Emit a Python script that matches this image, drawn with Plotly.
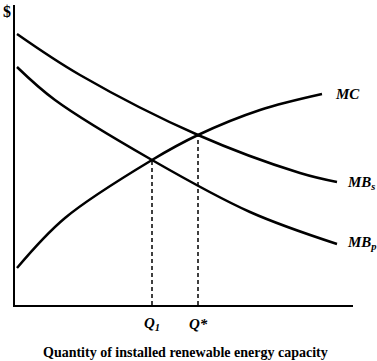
import plotly.graph_objects as go

# Curve points (arbitrary units: quantity, $)
mbs_x = [2, 65, 183, 285, 322]
mbs_y = [271, 230, 170, 132, 123]
mbp_x = [2, 40, 137, 235, 322]
mbp_y = [238, 205, 145, 93, 61]
mc_x = [2, 50, 137, 183, 245, 307]
mc_y = [37, 87, 145, 170, 195, 211]
q1 = 137
q1_price = 145
qstar = 183
qstar_price = 170

FONT = "Liberation Serif"
X0, Y0, XS, YS = 15, 305, 338, 300  # pixel origin and plot size


def px(x):
    return (x - X0) / XS


def py(y):
    return (Y0 - y) / YS


fig = go.Figure()
for xs, ys in [(mbs_x, mbs_y), (mbp_x, mbp_y), (mc_x, mc_y)]:
    fig.add_trace(go.Scatter(x=xs, y=ys, mode="lines",
                             line=dict(color="black", width=2.5, shape="spline", smoothing=1.0),
                             hoverinfo="skip", showlegend=False))
for q, p in [(q1, q1_price), (qstar, qstar_price)]:
    fig.add_trace(go.Scatter(x=[q, q], y=[0, p], mode="lines",
                             line=dict(color="black", width=1.5, dash="4px,3px"),
                             hoverinfo="skip", showlegend=False))

ann = [
    dict(x=318, y=211, text="<b><i>MC</i></b>", xanchor="left", size=15),
    dict(x=330, y=122, text="<b><i>MB<sub>s</sub></i></b>", xanchor="left", size=15),
    dict(x=330, y=62, text="<b><i>MB<sub>p</sub></i></b>", xanchor="left", size=15),
]
for a in ann:
    fig.add_annotation(x=a["x"], y=a["y"], xref="x", yref="y", text=a["text"],
                       showarrow=False, xanchor=a["xanchor"], yanchor="middle",
                       font=dict(family=FONT, size=a["size"], color="black"))
for q, t in [(q1, "<b><i>Q<sub>1</sub></i></b>"), (qstar, "<b><i>Q*</i></b>")]:
    fig.add_annotation(x=q, y=py(324), xref="x", yref="paper", text=t,
                       showarrow=False, xanchor="center", yanchor="middle",
                       font=dict(family=FONT, size=15, color="black"))
fig.add_annotation(xref="paper", yref="paper", x=px(185), y=py(352),
                   text="<b>Quantity of installed renewable energy capacity</b>",
                   showarrow=False, xanchor="center", yanchor="middle",
                   font=dict(family=FONT, size=14, color="black"))
fig.add_annotation(xref="paper", yref="paper", x=px(7), y=py(12),
                   text="<b>$</b>", showarrow=False, xanchor="center", yanchor="middle",
                   font=dict(family=FONT, size=16, color="black"))

fig.update_layout(
    width=377, height=361,
    margin=dict(l=15, r=24, t=5, b=56),
    plot_bgcolor="white", paper_bgcolor="white",
    xaxis=dict(range=[0, 338], showline=True, linecolor="black", linewidth=2,
               showgrid=False, zeroline=False, showticklabels=False, ticks="", fixedrange=True),
    yaxis=dict(range=[0, 300], showline=True, linecolor="black", linewidth=2,
               showgrid=False, zeroline=False, showticklabels=False, ticks="", fixedrange=True),
)
fig.write_html("out.html", config={"displayModeBar": False},
               post_script="document.body.style.margin='0';document.body.style.overflow='hidden';")
